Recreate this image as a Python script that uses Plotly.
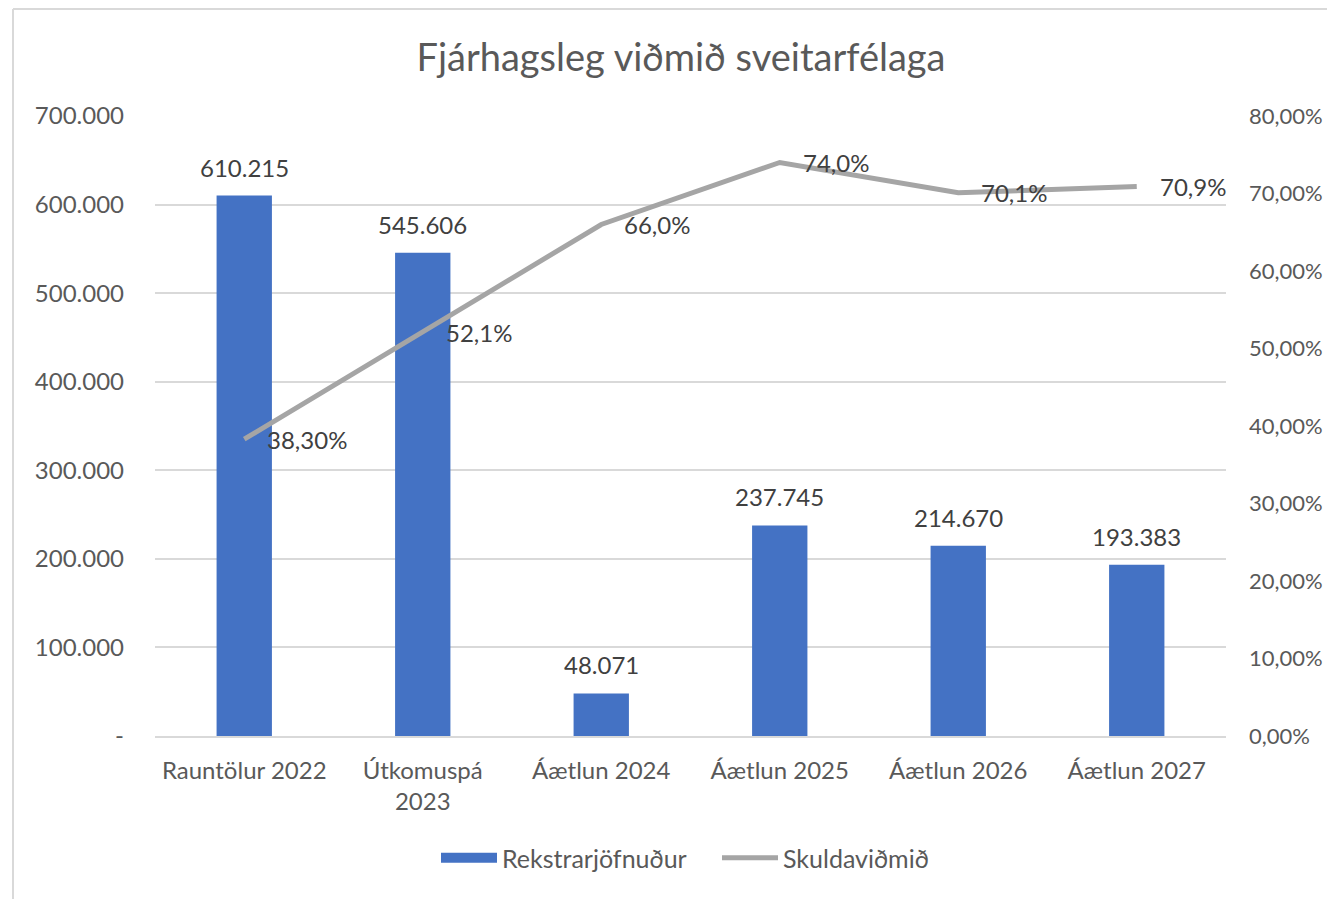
import plotly.graph_objects as go

categories = ["Rauntölur 2022", "Útkomuspá<br>2023", "Áætlun 2024", "Áætlun 2025", "Áætlun 2026", "Áætlun 2027"]
rekstrar = [610215, 545606, 48071, 237745, 214670, 193383]
skuld = [0.383, 0.521, 0.660, 0.740, 0.701, 0.709]
skuld_labels = ["38,30%", "52,1%", "66,0%", "74,0%", "70,1%", "70,9%"]
left_ticks = [0, 100000, 200000, 300000, 400000, 500000, 600000, 700000]
left_ticktext = ["-", "100.000", "200.000", "300.000", "400.000", "500.000", "600.000", "700.000"]
right_ticks = [0, 0.1, 0.2, 0.3, 0.4, 0.5, 0.6, 0.7, 0.8]
right_ticktext = ["0,00%", "10,00%", "20,00%", "30,00%", "40,00%", "50,00%", "60,00%", "70,00%", "80,00%"]

bar_text = [f"{v:,}".replace(",", ".") for v in rekstrar]

FONT = "Lato"
AX = "#595959"
LBL = "#404040"
FS = 24

# page body has an 8px margin, so figure is 8px smaller each way
W, H = 1327, 891
L, R, T, B = 147, 109, 108, 163
PW, PH = W - L - R, H - T - B

fig = go.Figure()
fig.add_trace(go.Bar(
    x=categories, y=rekstrar, name="Rekstrarjöfnuður", showlegend=False,
    marker=dict(color="#4472C4", line=dict(width=0)),
    hoverinfo="skip",
))
# legend-only proxy for the bar series (wide swatch like the original)
fig.add_trace(go.Scatter(
    x=[categories[0]], y=[None], mode="lines", name="Rekstrarjöfnuður",
    line=dict(color="#4472C4", width=14), hoverinfo="skip", legendrank=1,
))
fig.add_trace(go.Scatter(
    x=categories, y=skuld, name="Skuldaviðmið", yaxis="y2",
    mode="lines", line=dict(color="#A5A5A5", width=5),
    hoverinfo="skip", legendrank=2,
))

annotations = []
for c, v, t in zip(categories, rekstrar, bar_text):
    annotations.append(dict(x=c, y=v, xref="x", yref="y", text=t, showarrow=False,
                            xanchor="center", yanchor="bottom", yshift=12,
                            font=dict(family=FONT, size=FS, color=LBL)))
for c, v, t in zip(categories, skuld, skuld_labels):
    annotations.append(dict(x=c, y=v, xref="x", yref="y2", text=t, showarrow=False,
                            xanchor="left", yanchor="middle", xshift=21,
                            font=dict(family=FONT, size=FS, color=LBL)))

fig.update_layout(
    width=W, height=H,
    paper_bgcolor="white", plot_bgcolor="white",
    margin=dict(l=L, r=R, t=T, b=B, autoexpand=False),
    font=dict(family=FONT, size=FS, color=AX),
    title=dict(text="Fjárhagsleg viðmið sveitarfélaga", x=673 / W, xanchor="center",
               y=1 - 50 / H, yanchor="middle",
               font=dict(family=FONT, size=38, color=AX)),
    bargap=0.69,
    showlegend=True,
    legend=dict(orientation="h", x=(436 - 8 - L) / PW, xanchor="left", y=-(850 - T - PH) / PH,
                yanchor="middle",
                font=dict(family=FONT, size=25, color=AX), itemwidth=56,
                entrywidth=210, entrywidthmode="pixels",
                traceorder="normal"),
    annotations=annotations,
    xaxis=dict(type="category", categoryorder="array", categoryarray=categories,
               range=[-0.5, len(categories) - 0.5], automargin=False,
               showgrid=False, showline=True, linecolor="#D9D9D9", linewidth=2,
               ticks="", ticklabelstandoff=12,
               tickfont=dict(family=FONT, size=FS, color=AX)),
    yaxis=dict(range=[0, 700000], tickvals=left_ticks, ticktext=left_ticktext,
               showgrid=True, gridcolor="#D9D9D9", gridwidth=2, zeroline=False,
               showline=False, ticks="", ticklabelstandoff=30, automargin=False,
               tickfont=dict(family=FONT, size=FS, color=AX)),
    yaxis2=dict(range=[0, 0.8], tickvals=right_ticks, ticktext=right_ticktext,
                overlaying="y", side="right", showgrid=False, zeroline=False,
                showline=False, ticks="", ticklabelstandoff=22, automargin=False,
                tickfont=dict(family=FONT, size=22, color=AX)),
)

# chart border (left and top edges)
bx = (5 - L) / PW
fig.add_shape(type="line", xref="paper", yref="paper",
              x0=bx, x1=bx, y0=-(H - T - PH) / PH, y1=(T + PH - 1) / PH,
              line=dict(color="#D9D9D9", width=2))
fig.add_shape(type="line", xref="paper", yref="paper",
              x0=bx, x1=(W - L) / PW, y0=(T + PH - 1) / PH, y1=(T + PH - 1) / PH,
              line=dict(color="#D9D9D9", width=2))

fig.write_html("out.html")
